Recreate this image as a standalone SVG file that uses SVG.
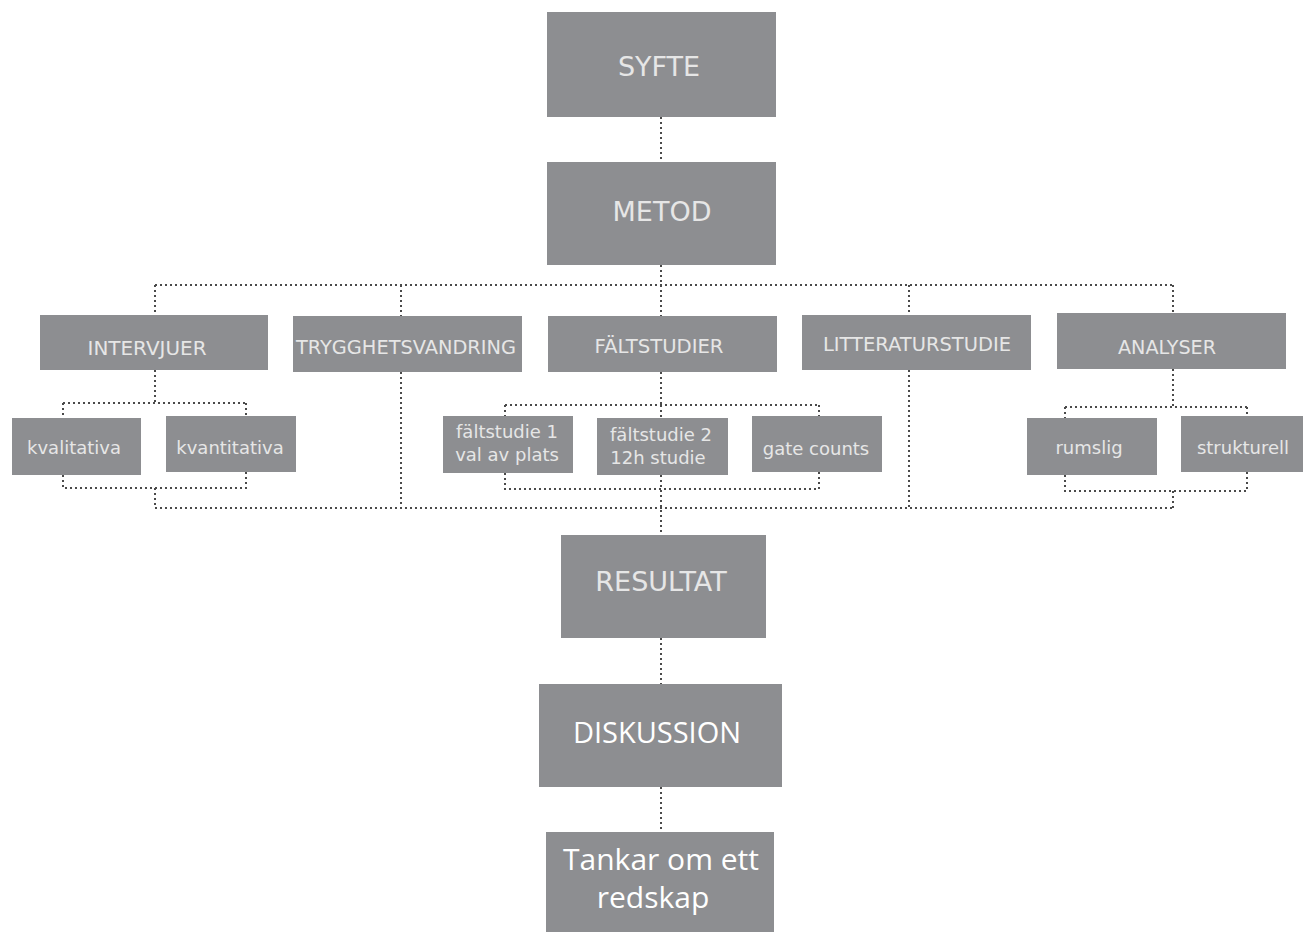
<svg xmlns="http://www.w3.org/2000/svg" width="1303" height="932" viewBox="0 0 1303 932">
<style>
.b{fill:#8d8e91}
.t{font-family:"DejaVu Sans",Verdana,sans-serif;fill:#e6e6e6;text-anchor:middle}
.big{font-size:27px}
.mid{font-size:19px}
.sm{font-size:18px}
.o{font-family:"Open Sans","Noto Sans",sans-serif;fill:#ffffff;text-anchor:middle}
.c{fill:none;stroke:#4a4a4a;stroke-width:2;stroke-dasharray:2 3}
</style>
<rect width="1303" height="932" fill="#ffffff"/>
<g id="connectors">
<path class="c" d="M661 117V162M661 265V285M155 285H1173M155 285V315M401 285V316M661 285V316M909 285V315M1173 285V313"/>
<path class="c" d="M155 370V403M63 403H246M63 403V418M246 403V416M63 475V488H246V472M155 488V508"/>
<path class="c" d="M401 372V508M909 370V508M155 508H1173"/>
<path class="c" d="M661 372V405M505 405H819M505 405V416M661 405V418M819 405V416M505 473V489H819V472M661 475V535"/>
<path class="c" d="M1173 369V407M1065 407H1247M1065 407V418M1247 407V416M1065 475V491H1247V472M1173 491V508"/>
<path class="c" d="M661 638V684M661 787V832"/>
</g>
<g id="syfte"><rect class="b" x="547" y="12" width="229" height="105"/><text class="t big" x="659" y="76">SYFTE</text></g>
<g id="metod"><rect class="b" x="547" y="162" width="229" height="103"/><text class="t big" x="662" y="221">METOD</text></g>
<g id="intervjuer"><rect class="b" x="40" y="315" width="228" height="55"/><text class="t mid" x="147" y="355" textLength="119" lengthAdjust="spacingAndGlyphs">INTERVJUER</text></g>
<g id="trygghetsvandring"><rect class="b" x="293" y="316" width="229" height="56"/><text class="t mid" x="406" y="354" textLength="220" lengthAdjust="spacingAndGlyphs">TRYGGHETSVANDRING</text></g>
<g id="faltstudier"><rect class="b" x="548" y="316" width="229" height="56"/><text class="t mid" x="659" y="353" textLength="129" lengthAdjust="spacingAndGlyphs">FÄLTSTUDIER</text></g>
<g id="litteraturstudie"><rect class="b" x="802" y="315" width="229" height="55"/><text class="t mid" x="917" y="351" textLength="188" lengthAdjust="spacingAndGlyphs">LITTERATURSTUDIE</text></g>
<g id="analyser"><rect class="b" x="1057" y="313" width="229" height="56"/><text class="t mid" x="1167" y="354" textLength="98" lengthAdjust="spacingAndGlyphs">ANALYSER</text></g>
<g id="kvalitativa"><rect class="b" x="12" y="418" width="129" height="57"/><text class="t sm" x="74" y="454">kvalitativa</text></g>
<g id="kvantitativa"><rect class="b" x="166" y="416" width="130" height="56"/><text class="t sm" x="230" y="454">kvantitativa</text></g>
<g id="faltstudie1"><rect class="b" x="443" y="416" width="130" height="57"/><text class="t sm" x="507" y="438">fältstudie 1</text><text class="t sm" x="507" y="461">val av plats</text></g>
<g id="faltstudie2"><rect class="b" x="597" y="418" width="131" height="57"/><text class="t sm" x="661" y="441">fältstudie 2</text><text class="t sm" x="658" y="464">12h studie</text></g>
<g id="gatecounts"><rect class="b" x="752" y="416" width="130" height="56"/><text class="t sm" x="816" y="455">gate counts</text></g>
<g id="rumslig"><rect class="b" x="1027" y="418" width="130" height="57"/><text class="t sm" x="1089" y="454">rumslig</text></g>
<g id="strukturell"><rect class="b" x="1181" y="416" width="122" height="56"/><text class="t sm" x="1243" y="454">strukturell</text></g>
<g id="resultat"><rect class="b" x="561" y="535" width="205" height="103"/><text class="t big" x="661" y="591">RESULTAT</text></g>
<g id="diskussion"><rect class="b" x="539" y="684" width="243" height="103"/><text class="o" font-size="29" x="657" y="743">DISKUSSION</text></g>
<g id="tankar"><rect class="b" x="546" y="832" width="228" height="100"/><text class="o" font-size="30" x="661" y="870">Tankar om ett</text><text class="o" font-size="30" x="653" y="908">redskap</text></g>
</svg>
